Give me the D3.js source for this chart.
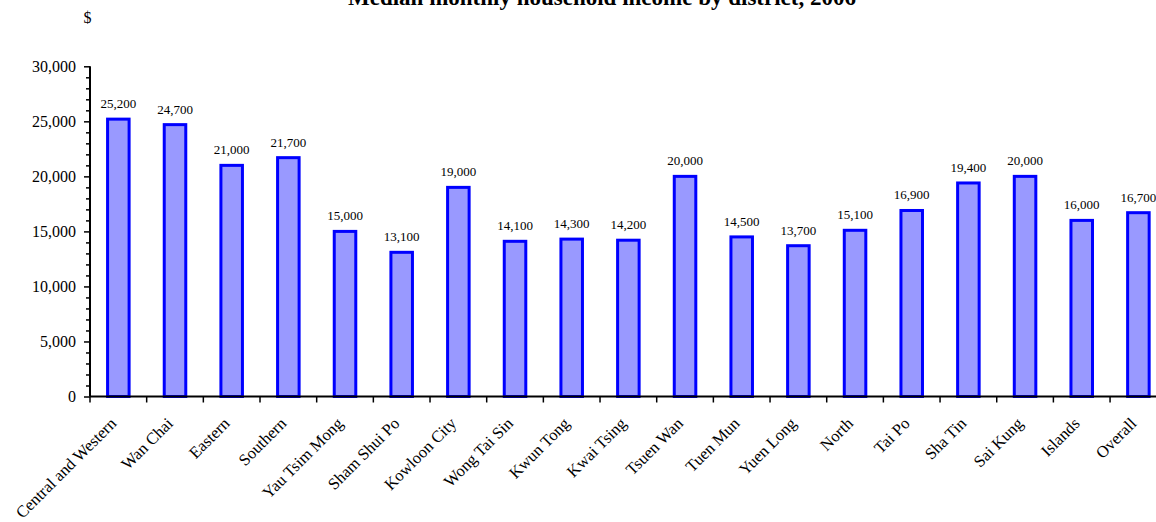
<!DOCTYPE html>
<html>
<head>
<meta charset="utf-8">
<script src="https://cdn.jsdelivr.net/npm/d3@7"></script>
<style>
  html, body { margin: 0; padding: 0; background: #fff; }
  svg { display: block; font-family: "Liberation Serif", "Times New Roman", serif; }
</style>
</head>
<body>
<svg id="chart" width="1156" height="522"></svg>
<script>
// Median monthly household income by district (HK$)
const districts = [
  "Central and Western", "Wan Chai", "Eastern", "Southern", "Yau Tsim Mong",
  "Sham Shui Po", "Kowloon City", "Wong Tai Sin", "Kwun Tong", "Kwai Tsing",
  "Tsuen Wan", "Tuen Mun", "Yuen Long", "North", "Tai Po", "Sha Tin",
  "Sai Kung", "Islands", "Overall"
];
const incomes = [
  25200, 24700, 21000, 21700, 15000,
  13100, 19000, 14100, 14300, 14200,
  20000, 14500, 13700, 15100, 16900, 19400,
  20000, 16000, 16700
];
const majorTicks = [0, 5000, 10000, 15000, 20000, 25000, 30000];
const minorTicks = d3.range(0, 30001, 1000).filter(v => v % 5000 !== 0);
const chartTitle = "Median monthly household income by district, 2006";
const unitLabel = "$";

const svg = d3.select("#chart");
const fmt = d3.format(",");

const x = d3.scaleBand()
  .domain(districts)
  .range([90, 90 + 19 * 56.67])
  .padding(0);

const y = d3.scaleLinear()
  .domain([0, 30000])
  .range([396.5, 66.3]);

// Title (runs off the top edge)
svg.append("text")
  .attr("x", 602)
  .attr("y", 5)
  .attr("text-anchor", "middle")
  .attr("font-weight", "bold")
  .attr("font-size", 23)
  .text(chartTitle);

// Unit label
svg.append("text")
  .attr("x", 87.5)
  .attr("y", 23)
  .attr("text-anchor", "middle")
  .attr("font-size", 16)
  .text(unitLabel);

// Bars
const barW = x.bandwidth() * 0.38;
svg.append("g")
  .selectAll("rect")
  .data(districts)
  .join("rect")
  .attr("x", (d) => x(d) + (x.bandwidth() - barW) / 2)
  .attr("y", (d, i) => y(incomes[i]))
  .attr("width", barW)
  .attr("height", (d, i) => y(0) - y(incomes[i]))
  .attr("fill", "#9999ff")
  .attr("stroke", "#0000ff")
  .attr("stroke-width", 3);

// Value labels
svg.append("g")
  .selectAll("text")
  .data(districts)
  .join("text")
  .attr("x", (d) => x(d) + x.bandwidth() / 2)
  .attr("y", (d, i) => y(incomes[i]) - 11)
  .attr("text-anchor", "middle")
  .attr("font-size", 13)
  .text((d, i) => fmt(incomes[i]));

// Y axis: minor ticks
const yMinor = svg.append("g")
  .attr("transform", "translate(90,0)")
  .call(d3.axisLeft(y).tickValues(minorTicks).tickSize(4).tickFormat(""));
yMinor.select(".domain").remove();
yMinor.selectAll("line").attr("stroke", "#000").attr("stroke-width", 1.5);

// Y axis: major ticks and labels
const yAxis = svg.append("g")
  .attr("transform", "translate(90,0)")
  .call(d3.axisLeft(y).tickValues(majorTicks).tickSize(6).tickPadding(8).tickFormat(fmt));
yAxis.select(".domain")
  .attr("stroke", "#000")
  .attr("stroke-width", 2)
  .attr("d", `M0,${y(0)}V${y(30000)}`);
yAxis.selectAll("line").attr("stroke", "#000").attr("stroke-width", 1.5);
yAxis.selectAll("text")
  .attr("font-family", "Liberation Serif, Times New Roman, serif")
  .attr("font-size", 16)
  .attr("fill", "#000");

// X axis line with ticks at the category boundaries
const xAxis = svg.append("g")
  .attr("transform", `translate(0,${y(0)})`);
xAxis.append("line")
  .attr("x1", x.range()[0])
  .attr("x2", x.range()[1])
  .attr("stroke", "#000")
  .attr("stroke-width", 2);
xAxis.selectAll("line.tick")
  .data(districts)
  .join("line")
  .attr("class", "tick")
  .attr("x1", (d) => x(d))
  .attr("x2", (d) => x(d))
  .attr("y1", 0)
  .attr("y2", 6)
  .attr("stroke", "#000")
  .attr("stroke-width", 1.5);

// Category labels, rotated
svg.append("g")
  .selectAll("text")
  .data(districts)
  .join("text")
  .attr("transform", (d) => `translate(${x(d) + x.bandwidth() / 2 - 1},${y(0) + 28}) rotate(-45)`)
  .attr("text-anchor", "end")
  .attr("font-size", 16.5)
  .text((d) => d);
</script>
</body>
</html>
